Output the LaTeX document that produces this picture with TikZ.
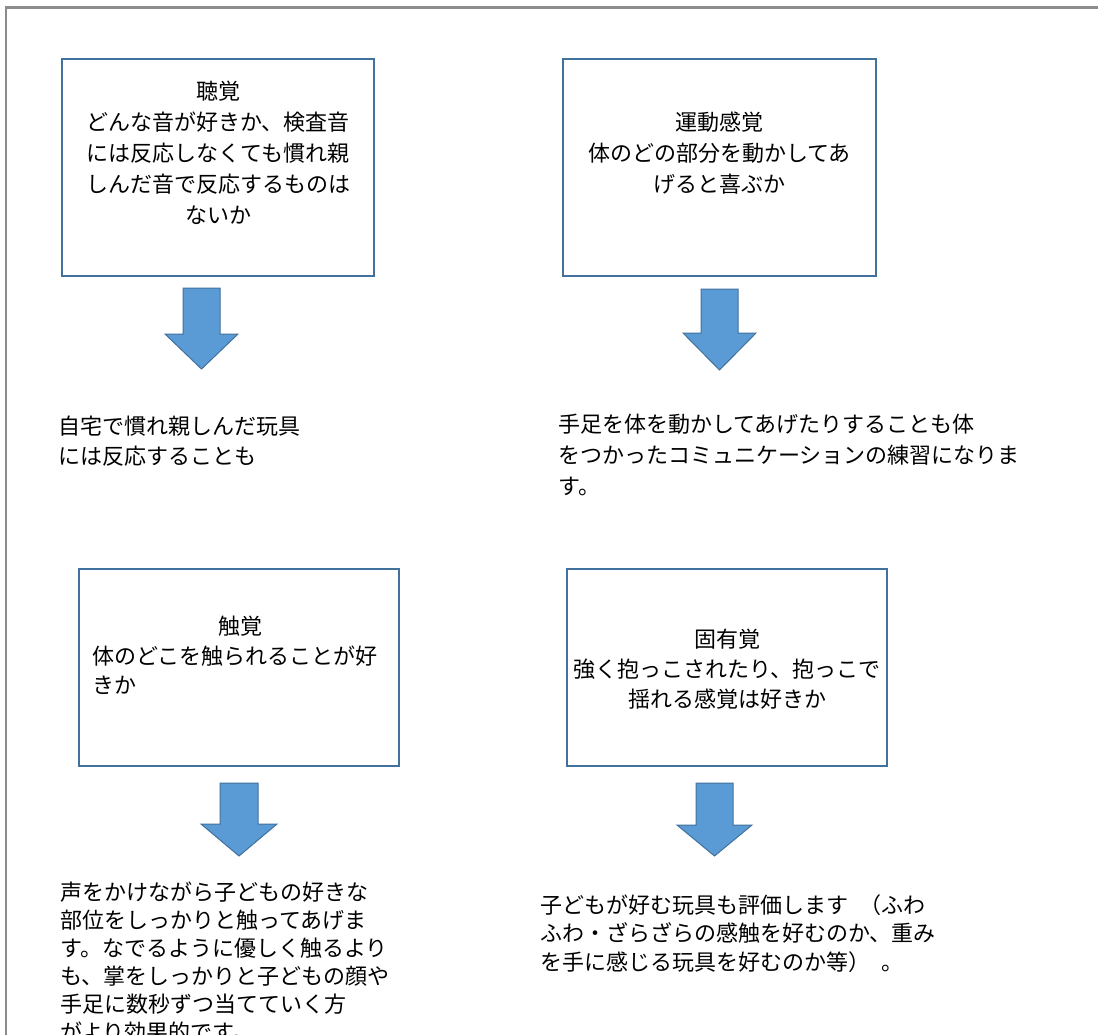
\documentclass[tikz,border=0pt]{standalone}
\usepackage{fontspec}
\setmainfont{Noto Sans CJK JP}
\definecolor{boxblue}{HTML}{41719C}
\definecolor{arrowfill}{HTML}{5B9BD5}
\definecolor{framegray}{HTML}{8C8C8C}
\begin{document}
\begin{tikzpicture}[x=1pt,y=-1pt,
  box/.style={draw=boxblue, line width=1.3pt, fill=white, inner sep=0pt},
  barrow/.style={draw=boxblue, line width=1pt, fill=arrowfill, line join=miter},
  jtext/.style={inner sep=0pt, font=\fontsize{22}{31}\selectfont, text=black},
]
\clip (0,0) rectangle (1098,1035);
\fill[white] (0,0) rectangle (1098,1035);
% frame
\draw[framegray, line width=2.6pt] (6,1040) -- (6,7.5) -- (1100,7.5);

% boxes
\node[box, minimum width=312pt, minimum height=217pt] (b1) at (218,167.5) {};
\node[box, minimum width=313pt, minimum height=217pt] (b2) at (719.5,167.5) {};
\node[box, minimum width=320pt, minimum height=197pt] (b3) at (239,667.5) {};
\node[box, minimum width=320pt, minimum height=197pt] (b4) at (727,667.5) {};

% box texts
\node[jtext, align=center, anchor=north] (t1) at (218,81)
  {聴覚\\どんな音が好きか、検査音\\には反応しなくても慣れ親\\しんだ音で反応するものは\\ないか};
\node[jtext, align=center, anchor=north] (t2) at (719.5,112)
  {運動感覚\\体のどの部分を動かしてあ\\げると喜ぶか};
\node[jtext, anchor=north] (t3h) at (240,616) {触覚};
\node[jtext, align=left, anchor=north west, font=\fontsize{22}{29}\selectfont] (t3) at (92,646)
  {体のどこを触られることが好\\きか};
\node[jtext, align=center, anchor=north, font=\fontsize{22}{30}\selectfont] (t4) at (727,629)
  {固有覚\\強く抱っこされたり、抱っこで\\揺れる感覚は好きか};

% arrows
\draw[barrow] (183,288) -- (220,288) -- (220,334) -- (238,334) -- (201.5,369) -- (165,334) -- (183,334) -- cycle;
\draw[barrow] (701,289) -- (738,289) -- (738,333) -- (756,333) -- (719.5,370) -- (683,333) -- (701,333) -- cycle;
\draw[barrow] (220,783) -- (258,783) -- (258,824) -- (277,824) -- (239,856) -- (201,824) -- (220,824) -- cycle;
\draw[barrow] (696,783) -- (733,783) -- (733,825) -- (752,825) -- (714.5,856) -- (677,825) -- (696,825) -- cycle;

% result texts
\node[jtext, align=left, anchor=north west, font=\fontsize{22}{30}\selectfont] (r1) at (58,416)
  {自宅で慣れ親しんだ玩具\\には反応することも};
\node[jtext, align=left, anchor=north west] (r2) at (558,414)
  {手足を体を動かしてあげたりすることも体\\をつかったコミュニケーションの練習になりま\\す。};
\node[jtext, align=left, anchor=north west, font=\fontsize{22}{28}\selectfont] (r3) at (60,882)
  {声をかけながら子どもの好きな\\部位をしっかりと触ってあげま\\す。なでるように優しく触るより\\も、掌をしっかりと子どもの顔や\\手足に数秒ずつ当てていく方\\がより効果的です。};
\node[jtext, align=left, anchor=north west, font=\fontsize{22}{28.5}\selectfont] (r4) at (540,894)
  {子どもが好む玩具も評価します\hspace{0.5em}（ふわ\\ふわ・ざらざらの感触を好むのか、重み\\を手に感じる玩具を好むのか等）\hspace{0.5em}。};
\end{tikzpicture}
\end{document}
